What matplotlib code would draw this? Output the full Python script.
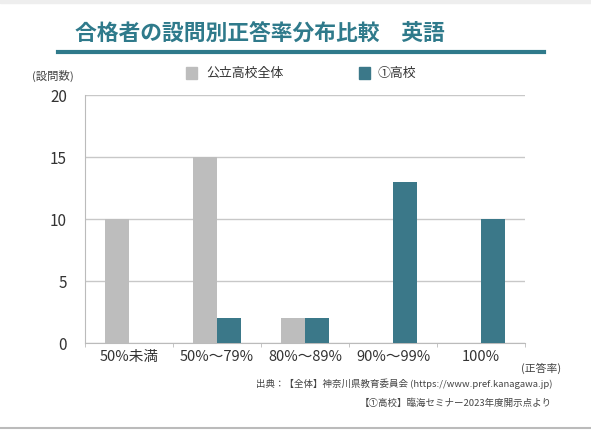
import matplotlib.pyplot as plt
import numpy as np
from matplotlib.lines import Line2D
from matplotlib.patches import Rectangle

plt.rcParams['font.family'] = ['Noto Sans CJK JP', 'DejaVu Sans']

# data
categories = ['50%未満', '50%～79%', '80%～89%', '90%～99%', '100%']
public_all = [10, 15, 2, 0, 0]
school_1 = [0, 2, 2, 13, 10]
series_names = ['公立高校全体', '①高校']
yticks = [0, 5, 10, 15, 20]

gray = '#bdbdbd'
teal = '#3b7889'
title_col = '#2f7a8b'

fig = plt.figure(figsize=(5.91, 4.30), dpi=100)
ax = fig.add_axes([85/591, 1-343/430, 440/591, 248/430])

x = np.arange(len(categories))
w = 0.275
ax.bar(x - w/2, public_all, w, color=gray, zorder=3)
ax.bar(x + w/2, school_1, w, color=teal, zorder=3)

ax.set_xlim(-0.5, len(categories) - 0.5)
ax.set_ylim(0, 20)
ax.set_yticks(yticks)
ax.grid(axis='y', color='#c8c8c8', linewidth=1, zorder=0)
ax.set_xticks(x)
ax.set_xticklabels(categories, fontsize=10.5, color='#333333')
ax.set_xticks(np.arange(-0.5, len(categories)), minor=True)
ax.tick_params(axis='x', which='major', length=0, pad=5)
ax.tick_params(axis='x', which='minor', length=3, color='#bbbbbb')
ax.tick_params(axis='y', length=0, labelsize=11, labelcolor='#333333', pad=13)
for s in ['top', 'right']:
    ax.spines[s].set_visible(False)
for s in ['left', 'bottom']:
    ax.spines[s].set_color('#bbbbbb')

# title and underline
fig.text(75/591, 1-34/430, '合格者の設問別正答率分布比較　英語', fontsize=15.7,
         fontweight='bold', color=title_col, va='center', ha='left')
fig.add_artist(Line2D([58/591, 544/591], [1-51.5/430, 1-51.5/430], color=title_col, linewidth=3))

# legend
fig.add_artist(Rectangle((186/591, 1-79/430), 11/591, 12/430, color=gray))
fig.text(206/591, 1-73/430, series_names[0], fontsize=9.3, color='#333333', va='center')
fig.add_artist(Rectangle((359/591, 1-79/430), 11/591, 12/430, color=teal))
fig.text(378/591, 1-73/430, series_names[1], fontsize=9.3, color='#333333', va='center')

fig.text(53/591, 1-76/430, '(設問数)', fontsize=8.2, color='#444444', ha='center', va='center')
fig.text(541/591, 1-368/430, '(正答率)', fontsize=7.8, color='#444444', ha='center', va='center')

fig.text(552/591, 1-384/430, '出典：【全体】神奈川県教育委員会 (https://www.pref.kanagawa.jp)',
         fontsize=6.8, color='#444444', ha='right', va='center')
fig.text(552/591, 1-403/430, '【①高校】臨海セミナー2023年度開示点より',
         fontsize=6.8, color='#444444', ha='right', va='center')

# slide frame
fig.add_artist(Rectangle((0, 1-3/430), 1, 3/430, color='#eeeeee'))
fig.add_artist(Line2D([0, 1], [1-428/430, 1-428/430], color='#bbbbbb', linewidth=1.5))

fig.savefig('out.png', dpi=100)
